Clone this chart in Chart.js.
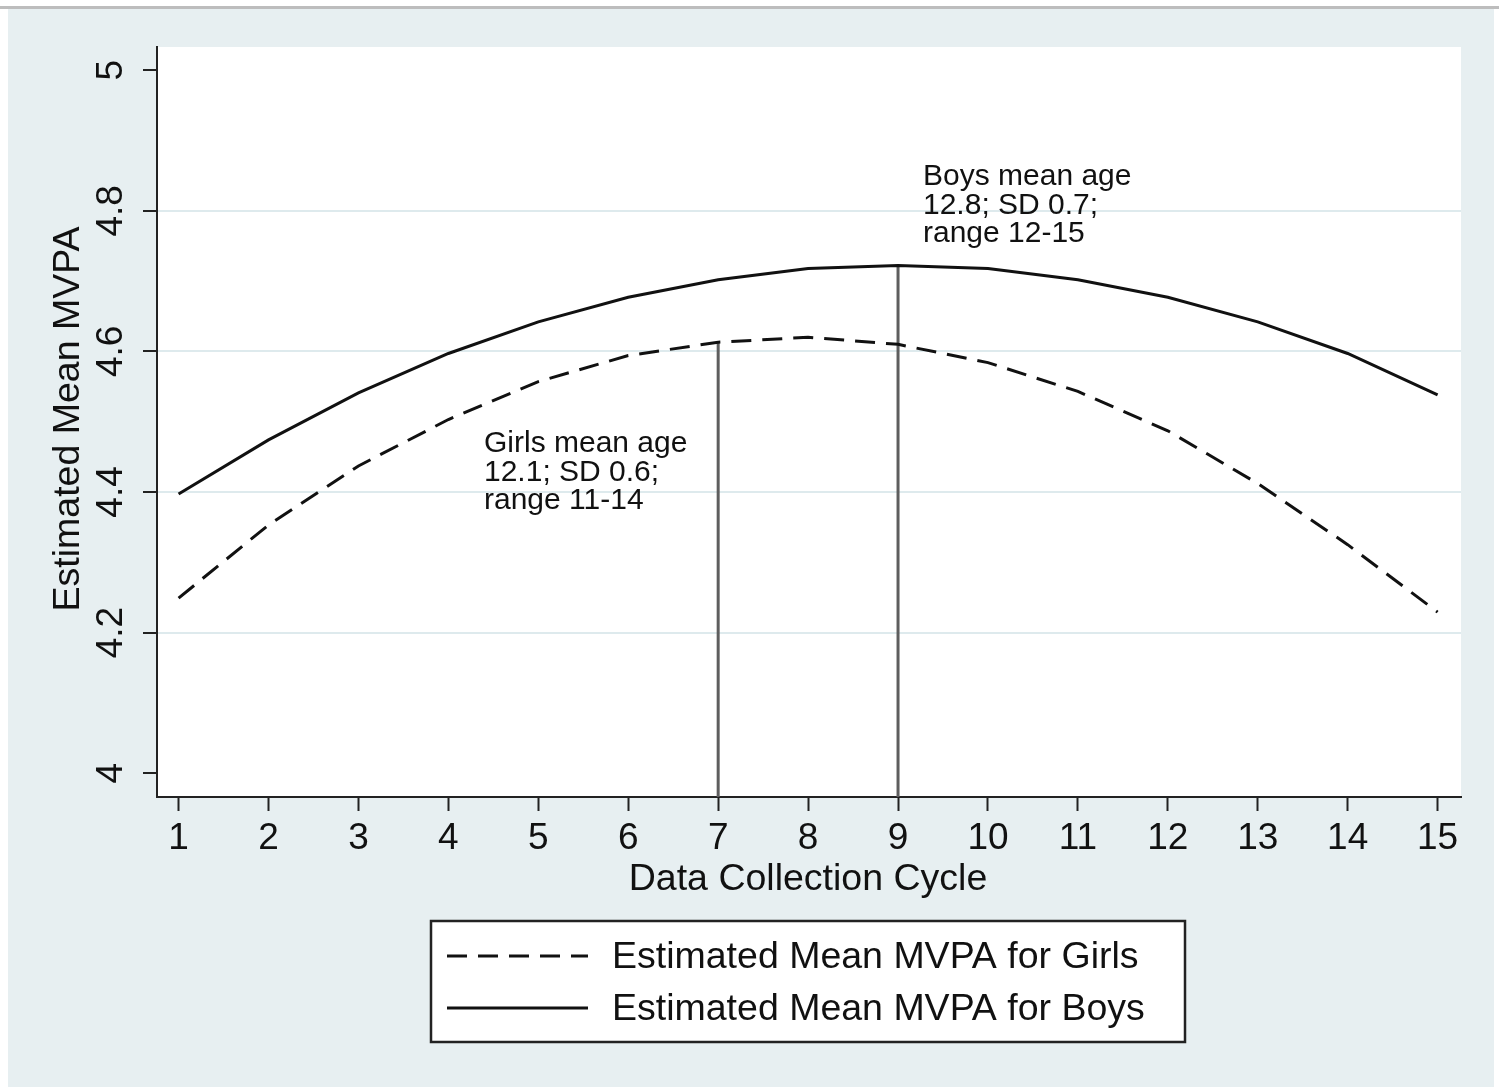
<!DOCTYPE html>
<html>
<head>
<meta charset="utf-8">
<script src="https://cdn.jsdelivr.net/npm/chart.js@4.4.1/dist/chart.umd.min.js"></script>
<style>
  html, body { margin: 0; padding: 0; background: #ffffff; }
  canvas { display: block; }
</style>
</head>
<body>
<canvas id="c" width="1499" height="1087"></canvas>
<script>
// ---- data ----
const cycles = [1, 2, 3, 4, 5, 6, 7, 8, 9, 10, 11, 12, 13, 14, 15];
const girlsMVPA = [4.249, 4.353, 4.437, 4.503, 4.557, 4.594, 4.613, 4.620, 4.610, 4.584, 4.543, 4.487, 4.412, 4.325, 4.229];
const boysMVPA  = [4.397, 4.474, 4.541, 4.597, 4.642, 4.677, 4.702, 4.718, 4.722, 4.718, 4.702, 4.677, 4.642, 4.597, 4.538];
const yTicks = [4, 4.2, 4.4, 4.6, 4.8, 5];
const yTickLabels = ['4', '4.2', '4.4', '4.6', '4.8', '5'];
const xTickLabels = ['1','2','3','4','5','6','7','8','9','10','11','12','13','14','15'];
const girlsMeanCycle = 7;
const boysMeanCycle = 9;
const seriesLabels = ['Estimated Mean MVPA for Girls', 'Estimated Mean MVPA for Boys'];
const girlsNote = ['Girls mean age', '12.1; SD 0.6;', 'range 11-14'];
const boysNote = ['Boys mean age', '12.8; SD 0.7;', 'range 12-15'];
const xTitle = 'Data Collection Cycle';
const yTitle = 'Estimated Mean MVPA';

const Y_MIN = 3.966, Y_MAX = 5.033, X_MIN = 0.76, X_MAX = 15.26;
const FONT = "'Liberation Sans', Arial, sans-serif";
const INK = '#111111';

const toXY = (arr) => cycles.map((c, i) => ({ x: c, y: arr[i] }));

const bgPlugin = {
  id: 'bg',
  beforeDraw(chart) {
    const ctx = chart.ctx, a = chart.chartArea;
    ctx.save();
    ctx.fillStyle = '#ffffff';
    ctx.fillRect(0, 0, chart.width, chart.height);
    ctx.fillStyle = '#bdbdbd';
    ctx.fillRect(0, 6, chart.width, 3);
    ctx.fillStyle = '#e7eff1';
    ctx.fillRect(8, 9, 1486, chart.height - 9);
    ctx.fillStyle = '#ffffff';
    ctx.fillRect(a.left, a.top, a.right - a.left, a.bottom - a.top);
    ctx.restore();
  }
};

const textPlugin = {
  id: 'texts',
  afterDraw(chart) {
    const ctx = chart.ctx, a = chart.chartArea;
    const ys = chart.scales.y;
    ctx.save();
    ctx.fillStyle = INK;
    // y tick labels (rotated)
    ctx.font = '37px ' + FONT;
    ctx.textAlign = 'center';
    ctx.textBaseline = 'middle';
    yTicks.forEach((v, i) => {
      const py = ys.getPixelForValue(v);
      ctx.save();
      ctx.translate(112, py);
      ctx.rotate(-Math.PI / 2);
      ctx.fillText(yTickLabels[i], 0, 0);
      ctx.restore();
    });
    // y title
    ctx.font = '37.5px ' + FONT;
    ctx.save();
    ctx.translate(69, 419);
    ctx.rotate(-Math.PI / 2);
    ctx.fillText(yTitle, 0, 0);
    ctx.restore();
    // x title
    ctx.textBaseline = 'alphabetic';
    ctx.fillText(xTitle, 808, 890);

    // annotations
    ctx.font = '30px ' + FONT;
    ctx.textAlign = 'left';
    girlsNote.forEach((t, i) => ctx.fillText(t, 484, 452 + i * 28.5));
    boysNote.forEach((t, i) => ctx.fillText(t, 923, 185 + i * 28.5));

    // legend
    const lx = 431, ly = 921, lw = 754, lh = 121;
    ctx.fillStyle = '#ffffff';
    ctx.fillRect(lx, ly, lw, lh);
    ctx.strokeStyle = '#222222';
    ctx.lineWidth = 2.5;
    ctx.strokeRect(lx, ly, lw, lh);
    const rows = [956, 1008];
    ctx.font = '37.5px ' + FONT;
    [0, 1].forEach((di, r) => {
      const ds = chart.data.datasets[di];
      ctx.save();
      ctx.strokeStyle = ds.borderColor;
      ctx.lineWidth = ds.borderWidth;
      ctx.setLineDash(ds.borderDash || []);
      ctx.beginPath();
      ctx.moveTo(447, rows[r]);
      ctx.lineTo(588, rows[r]);
      ctx.stroke();
      ctx.restore();
      ctx.fillStyle = INK;
      ctx.textBaseline = 'middle';
      ctx.fillText(ds.label, 612, rows[r] + 2);
    });
    ctx.restore();
  }
};

new Chart(document.getElementById('c'), {
  type: 'line',
  data: {
    datasets: [
      {
        label: seriesLabels[0],
        data: toXY(girlsMVPA),
        borderColor: '#111111',
        borderWidth: 3,
        borderDash: [20, 11],
        pointRadius: 0,
        tension: 0,
        fill: false
      },
      {
        label: seriesLabels[1],
        data: toXY(boysMVPA),
        borderColor: '#111111',
        borderWidth: 3,
        pointRadius: 0,
        tension: 0,
        fill: false
      },
      {
        label: 'girls-mean',
        data: [{ x: girlsMeanCycle, y: Y_MIN }, { x: girlsMeanCycle, y: girlsMVPA[cycles.indexOf(girlsMeanCycle)] }],
        borderColor: '#5e5e5e',
        borderWidth: 3,
        pointRadius: 0,
        fill: false
      },
      {
        label: 'boys-mean',
        data: [{ x: boysMeanCycle, y: Y_MIN }, { x: boysMeanCycle, y: boysMVPA[cycles.indexOf(boysMeanCycle)] }],
        borderColor: '#5e5e5e',
        borderWidth: 3,
        pointRadius: 0,
        fill: false
      }
    ]
  },
  options: {
    responsive: false,
    animation: false,
    events: [],
    layout: { padding: { left: 0, right: 38, top: 47, bottom: 0 } },
    plugins: { legend: { display: false }, tooltip: { enabled: false }, title: { display: false } },
    scales: {
      x: {
        type: 'linear',
        min: X_MIN,
        max: X_MAX,
        afterBuildTicks: (s) => { s.ticks = cycles.map(v => ({ value: v })); },
        afterFit: (s) => { s.height = 290; },
        ticks: {
          padding: 6,
          color: INK,
          font: { size: 37, family: FONT },
          maxRotation: 0,
          autoSkip: false,
          callback: (v) => xTickLabels[cycles.indexOf(v)]
        },
        grid: { drawOnChartArea: false, drawTicks: true, tickLength: 14, tickColor: '#222222', tickWidth: 2 },
        border: { display: true, color: '#222222', width: 2 }
      },
      y: {
        type: 'linear',
        min: Y_MIN,
        max: Y_MAX,
        afterBuildTicks: (s) => { s.ticks = yTicks.map(v => ({ value: v })); },
        afterFit: (s) => { s.width = 157; },
        ticks: { display: false },
        grid: {
          drawOnChartArea: true,
          drawTicks: true,
          tickLength: 14,
          tickColor: '#222222',
          tickWidth: 2,
          lineWidth: 2,
          color: (c) => (c.tick && (c.tick.value === 4 || c.tick.value === 5)) ? 'rgba(0,0,0,0)' : '#deeaed'
        },
        border: { display: true, color: '#222222', width: 2 }
      }
    }
  },
  plugins: [bgPlugin, textPlugin]
});
</script>
</body>
</html>
